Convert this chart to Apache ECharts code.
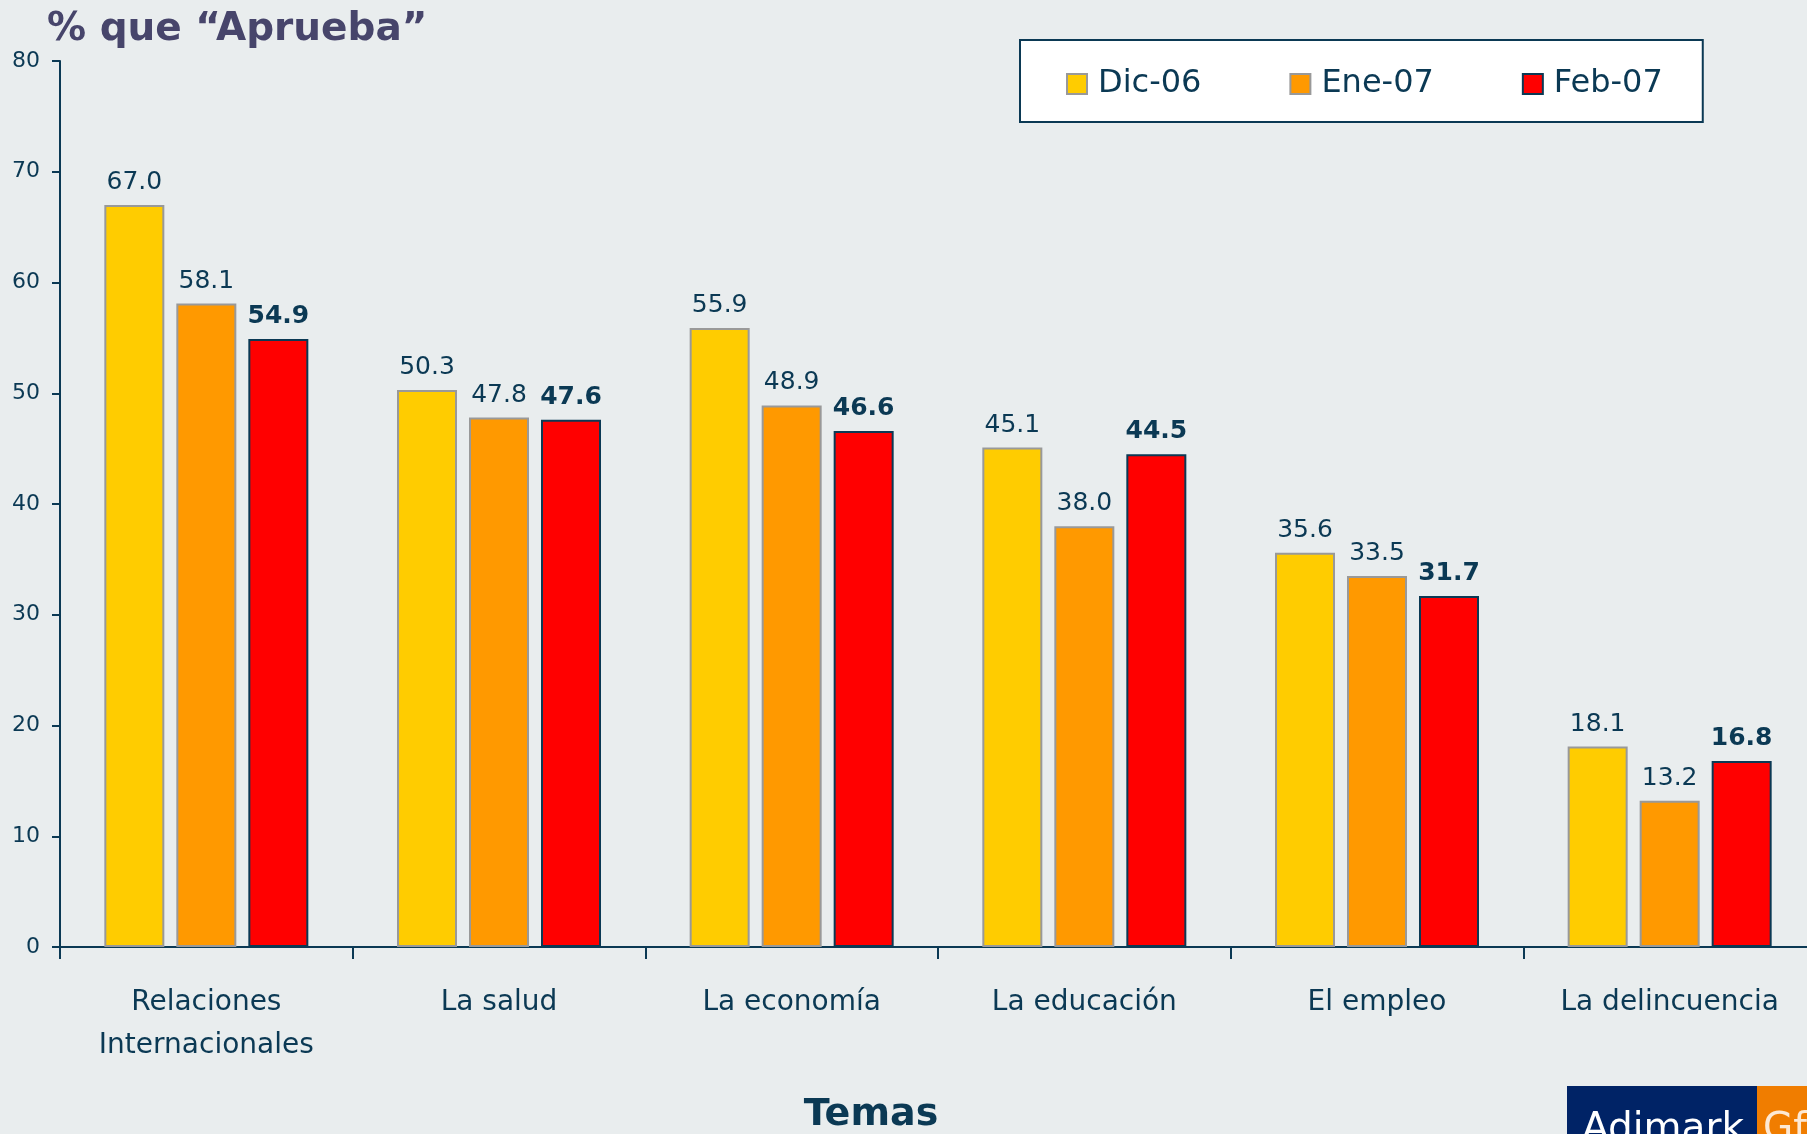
<!DOCTYPE html>
<html>
<head>
<meta charset="utf-8">
<script src="https://cdn.jsdelivr.net/npm/echarts@6/dist/echarts.min.js"></script>
<style>
  html, body { margin: 0; padding: 0; background: #e9edee; }
  #chart { width: 1807px; height: 1134px; }
</style>
</head>
<body>
<div id="chart"></div>
<script>
// categorias y valores
var temas = ['Relaciones\nInternacionales', 'La salud', 'La economía', 'La educación', 'El empleo', 'La delincuencia']
var dic06 = [67.0, 50.3, 55.9, 45.1, 35.6, 18.1]
var ene07 = [58.1, 47.8, 48.9, 38.0, 33.5, 13.2]
var feb07 = [54.9, 47.6, 46.6, 44.5, 31.7, 16.8]
var serieNames = ['Dic-06', 'Ene-07', 'Feb-07']

var navy = '#0b3954'
var font = 'DejaVu Sans'

const chart = echarts.init(document.getElementById('chart'))

function label(bold) {
  return {
    show: true,
    position: 'top',
    distance: 10,
    color: navy,
    fontSize: 25,
    fontFamily: font,
    fontWeight: bold ? 'bold' : 'normal',
    formatter: function (p) { return p.value.toFixed(1) },
  }
}

var option = {
  backgroundColor: '#e9edee',
  animation: false,
  grid: {
    left: 60,
    top: 61,
    width: 1756,
    height: 886,
    outerBoundsMode: 'none',
  },
  legend: {
    data: serieNames,
    icon: 'rect',
    left: 1020,
    top: 40,
    orient: 'horizontal',
    padding: [28, 40, 22, 46],
    itemGap: 88,
    itemWidth: 20,
    itemHeight: 20,
    backgroundColor: '#ffffff',
    borderColor: navy,
    borderWidth: 2,
    textStyle: {
      color: navy,
      fontSize: 32,
      lineHeight: 32,
      fontFamily: font,
      padding: [0, 0, 0, 6],
    },
  },
  xAxis: {
    type: 'category',
    data: temas,
    axisLine: { lineStyle: { color: navy, width: 2 } },
    axisTick: { show: true, length: 12, lineStyle: { color: navy, width: 2 } },
    axisLabel: {
      color: navy,
      fontSize: 28,
      lineHeight: 43,
      fontFamily: font,
      margin: 34,
      interval: 0,
    },
  },
  yAxis: {
    type: 'value',
    min: 0,
    max: 80,
    interval: 10,
    splitLine: { show: false },
    axisLine: { show: true, lineStyle: { color: navy, width: 2 } },
    axisTick: { show: true, length: 8, lineStyle: { color: navy, width: 2 } },
    axisLabel: {
      color: navy,
      fontSize: 22,
      fontFamily: font,
      margin: 20,
    },
  },
  series: [
    {
      name: 'Dic-06',
      type: 'bar',
      data: dic06,
      barWidth: 60,
      barGap: '20%',
      itemStyle: { color: '#ffcc00', borderColor: '#999999', borderWidth: 2 },
      label: label(false),
    },
    {
      name: 'Ene-07',
      type: 'bar',
      data: ene07,
      barWidth: 60,
      barGap: '20%',
      itemStyle: { color: '#ff9900', borderColor: '#999999', borderWidth: 2 },
      label: label(false),
    },
    {
      name: 'Feb-07',
      type: 'bar',
      data: feb07,
      barWidth: 60,
      barGap: '20%',
      itemStyle: { color: '#ff0000', borderColor: navy, borderWidth: 2 },
      label: label(true),
    },
  ],
  graphic: [
    {
      type: 'text',
      left: 47,
      top: 10,
      style: {
        text: '% que “Aprueba”',
        fill: '#47456b',
        font: 'bold 39px "DejaVu Sans"',
      },
    },
    {
      type: 'text',
      x: 871,
      y: 1096,
      style: {
        text: 'Temas',
        fill: navy,
        font: 'bold 38px "DejaVu Sans"',
        align: 'center',
        verticalAlign: 'top',
      },
    },
    // logo abajo a la derecha
    {
      type: 'rect',
      shape: { x: 1567, y: 1086, width: 190, height: 60 },
      style: { fill: '#002366' },
    },
    {
      type: 'rect',
      shape: { x: 1757, y: 1086, width: 60, height: 60 },
      style: { fill: '#f07d00' },
    },
    {
      type: 'text',
      x: 1582,
      y: 1110,
      style: { text: 'Adimark', fill: '#ffffff', font: '39px "DejaVu Sans"', verticalAlign: 'top' },
    },
    {
      type: 'text',
      x: 1763,
      y: 1110,
      style: { text: 'GfK', fill: '#fde9d4', font: '39px "DejaVu Sans"', verticalAlign: 'top' },
    },
  ],
}

chart.setOption(option)
window.onresize = () => {
  chart.resize()
}
</script>
</body>
</html>
